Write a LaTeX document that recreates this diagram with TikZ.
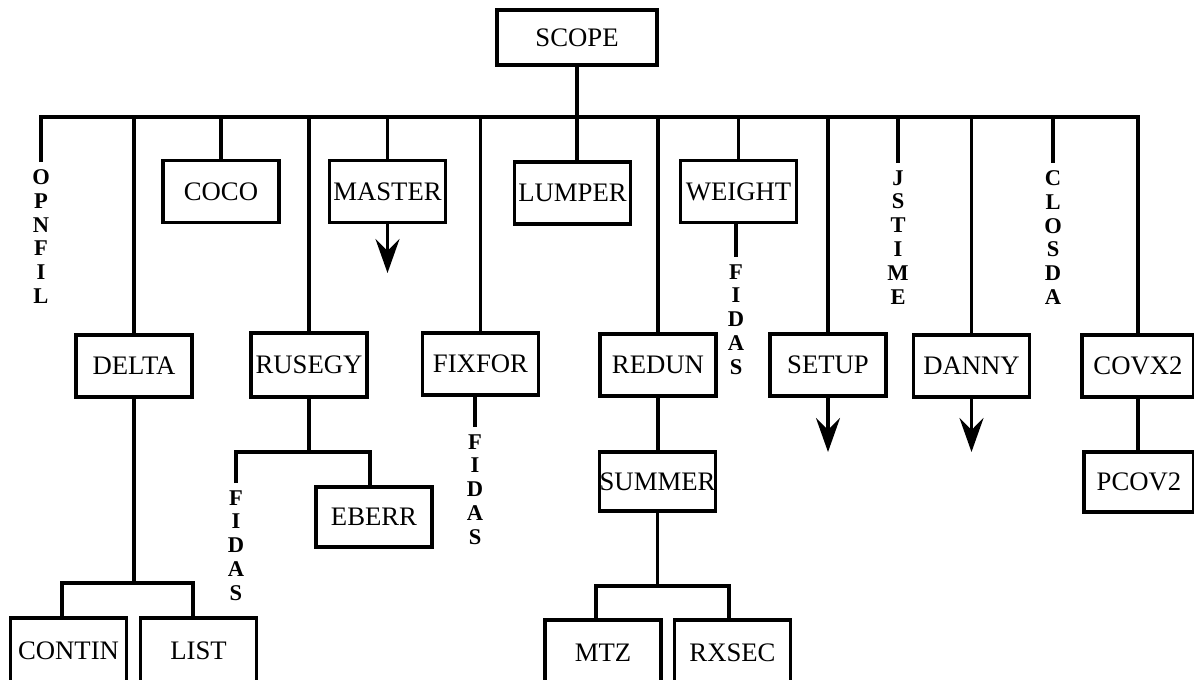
\documentclass[tikz,border=0pt]{standalone}
\usepackage{fontspec}
\setmainfont{Liberation Serif}
\usetikzlibrary{arrows.meta}

\tikzset{
  box/.style={draw, line width=2.6pt, minimum width=2.9cm, minimum height=1.55cm,
    inner sep=0pt, font=\fontsize{19}{19}\selectfont},
  link/.style={line width=2.2pt},
  down/.style={line width=2.2pt, -{Stealth[length=8.5mm,width=6mm,inset=3mm]}},
  vlab/.style={align=center, anchor=north, inner xsep=0pt, inner ysep=5pt,
    font=\bfseries\fontsize{16}{17}\selectfont},
}

\begin{document}
\begin{tikzpicture}[x=0.025cm, y=-0.025cm]
\useasboundingbox (0,0) rectangle (1194,679);

% ===== Các hộp =====
\node[box, minimum width=4cm, minimum height=1.375cm] (scope) at (577,37.5) {SCOPE};

\node[box] (coco) at (221,191.5) {COCO};
\node[box] (master) at (387.5,191.5) {MASTER};
\node[box] (lumper) at (572.5,193) {LUMPER};
\node[box] (weight) at (738.5,191.5) {WEIGHT};

\node[box] (delta) at (134,366) {DELTA};
\node[box, minimum height=1.6cm] (rusegy) at (309,365) {RUSEGY};
\node[box] (fixfor) at (480.5,364) {FIXFOR};
\node[box] (redun) at (658,365) {REDUN};
\node[box] (setup) at (828,365) {SETUP};
\node[box] (danny) at (971.5,366) {DANNY};
\node[box, minimum width=2.8cm] (covx2) at (1138,366) {COVX2};

\node[box, minimum height=1.5cm] (eberr) at (374,517) {EBERR};
\node[box, minimum height=1.475cm] (summer) at (657.5,481.5) {SUMMER};
\node[box, minimum width=2.75cm, minimum height=1.5cm] (pcov2) at (1139,482) {PCOV2};

\node[box, minimum height=1.65cm] (contin) at (68.5,651) {CONTIN};
\node[box, minimum height=1.65cm] (list) at (198.5,651) {LIST};
\node[box, minimum height=1.65cm] (mtz) at (603,653) {MTZ};
\node[box, minimum height=1.65cm] (rxsec) at (732.5,653) {RXSEC};

% ===== Nhãn dọc =====
\node[vlab] (opnfil) at (41,162) {O\\P\\N\\F\\I\\L};
\node[vlab] (jstime) at (898,163) {J\\S\\T\\I\\M\\E};
\node[vlab] (closda) at (1053,163) {C\\L\\O\\S\\D\\A};
\node[vlab] (fidasw) at (736,257) {F\\I\\D\\A\\S};
\node[vlab] (fidasr) at (236,483) {F\\I\\D\\A\\S};
\node[vlab] (fidasf) at (475,427) {F\\I\\D\\A\\S};

% ===== Điểm nối =====
\coordinate (bus) at (0,117);
\coordinate (dl) at (62,583);
\coordinate (dr) at (193,583);
\coordinate (rl) at (236,452);
\coordinate (rr) at (370,452);
\coordinate (ml) at (596,586);
\coordinate (mr) at (729,586);
\coordinate (mend) at (387.5,273);
\coordinate (send) at (828,452);
\coordinate (nend) at (971.5,452);

% ===== Đường nối =====
\draw[link] (opnfil.north) -- (opnfil.north |- bus) -- (covx2.north |- bus) -- (covx2.north);
\draw[link] (scope.south) -- (scope.south |- lumper.north);

\draw[link] (coco.north |- bus) -- (coco.north);
\draw[link] (master.north |- bus) -- (master.north);
\draw[link] (weight.north |- bus) -- (weight.north);
\draw[link] (jstime.north |- bus) -- (jstime.north);
\draw[link] (closda.north |- bus) -- (closda.north);

\draw[link] (delta.north |- bus) -- (delta.north);
\draw[link] (rusegy.north |- bus) -- (rusegy.north);
\draw[link] (fixfor.north |- bus) -- (fixfor.north);
\draw[link] (redun.north |- bus) -- (redun.north);
\draw[link] (setup.north |- bus) -- (setup.north);
\draw[link] (danny.north |- bus) -- (danny.north);

\draw[link] (fidasw.north |- weight.south) -- (fidasw.north);
\draw[link] (fidasf.north |- fixfor.south) -- (fidasf.north);

% DELTA
\draw[link] (delta.south) -- (delta.south |- dl);
\draw[link] (dl |- contin.north) -- (dl) -- (dr) -- (dr |- list.north);

% RUSEGY
\draw[link] (rusegy.south) -- (rusegy.south |- rl);
\draw[link] (fidasr.north) -- (rl) -- (rr) -- (rr |- eberr.north);

% REDUN
\draw[link] (redun.south) -- (redun.south |- summer.north);
\draw[link] (summer.south) -- (summer.south |- ml);
\draw[link] (ml |- mtz.north) -- (ml) -- (mr) -- (mr |- rxsec.north);

% COVX2
\draw[link] (covx2.south) -- (covx2.south |- pcov2.north);

% ===== Mũi tên =====
\draw[down] (master.south) -- (mend);
\draw[down] (setup.south) -- (send);
\draw[down] (danny.south) -- (nend);

\end{tikzpicture}
\end{document}
